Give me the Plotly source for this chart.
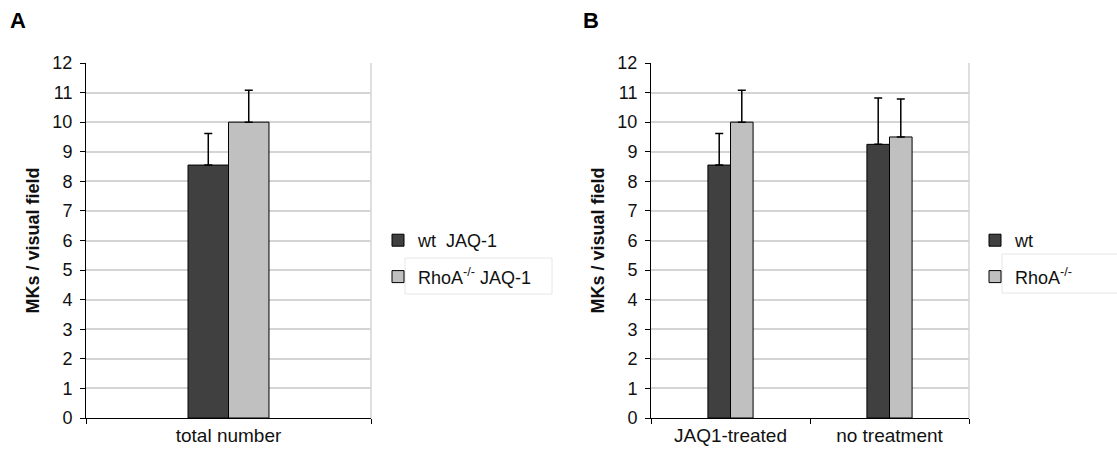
import plotly.graph_objects as go

# ---- data ----
cats_a = ["total number"]
wt_a = [8.55]
wt_a_err = [1.07]
rho_a = [10.0]
rho_a_err = [1.08]

cats_b = ["JAQ1-treated", "no treatment"]
wt_b = [8.55, 9.25]
wt_b_err = [1.07, 1.57]
rho_b = [10.0, 9.5]
rho_b_err = [1.08, 1.28]

y_ticks = list(range(0, 13))

DARK = "#404040"
LIGHT = "#c0c0c0"
FONT = "Liberation Sans, Arial, sans-serif"

fig = go.Figure()

def err(vals):
    return dict(type="data", symmetric=False, array=vals, arrayminus=[0] * len(vals),
                color="black", thickness=1.5, width=4)

fig.add_trace(go.Bar(x=cats_a, y=wt_a, name="wt  JAQ-1", marker=dict(color=DARK, line=dict(color="black", width=1)),
                     error_y=err(wt_a_err), xaxis="x", yaxis="y", legend="legend", legendgroup="a1"))
fig.add_trace(go.Bar(x=cats_a, y=rho_a, name="RhoA<sup>-/-</sup> JAQ-1", marker=dict(color=LIGHT, line=dict(color="black", width=1)),
                     error_y=err(rho_a_err), xaxis="x", yaxis="y", legend="legend", legendgroup="a2"))
fig.add_trace(go.Bar(x=cats_b, y=wt_b, name="wt", marker=dict(color=DARK, line=dict(color="black", width=1)),
                     error_y=err(wt_b_err), xaxis="x2", yaxis="y2", legend="legend2", legendgroup="b1"))
fig.add_trace(go.Bar(x=cats_b, y=rho_b, name="RhoA<sup>-/-</sup>", marker=dict(color=LIGHT, line=dict(color="black", width=1)),
                     error_y=err(rho_b_err), xaxis="x2", yaxis="y2", legend="legend2", legendgroup="b2"))

W, H = 1117, 455
y0, y1 = (H - 418) / H, (H - 63) / H

yax = dict(range=[0, 12], tickvals=y_ticks, showgrid=True, gridcolor="#d4d4d4", gridwidth=1.5,
           showline=True, linecolor="black", linewidth=1, ticks="outside", ticklen=5, tickcolor="black",
           tickfont=dict(size=18, color="#111"), zeroline=False, automargin=False, ticklabelstandoff=4,
           title=dict(text="<b>MKs / visual field</b>", font=dict(size=18, color="#111"), standoff=8),
           domain=[y0, y1])
xax = dict(showline=True, linecolor="black", linewidth=1, ticks="outside", ticklen=5, tickcolor="black",
           tickson="boundaries", tickfont=dict(size=19, color="#111"), automargin=False, showgrid=False)

fig.update_layout(
    width=W, height=H, margin=dict(l=0, r=0, t=0, b=0),
    paper_bgcolor="white", plot_bgcolor="white",
    font=dict(family=FONT, color="#111"),
    barmode="group",
    xaxis=dict(xax, domain=[86 / W, 371 / W], anchor="y"),
    yaxis=dict(yax, anchor="x"),
    xaxis2=dict(xax, domain=[651 / W, 969 / W], anchor="y2"),
    yaxis2=dict(yax, anchor="x2"),
    legend=dict(x=378 / W, y=(H - 222) / H, xanchor="left", yanchor="top", font=dict(size=18),
                traceorder="grouped", tracegroupgap=10, bgcolor="rgba(0,0,0,0)", itemwidth=30),
    legend2=dict(x=975 / W, y=(H - 222) / H, xanchor="left", yanchor="top", font=dict(size=18),
                 traceorder="grouped", tracegroupgap=10, bgcolor="rgba(0,0,0,0)", itemwidth=30),
    showlegend=True,
)
fig.update_layout(bargap=0.716)

# plot-area right border (light)
for dom in ([86 / W, 371 / W], [651 / W, 969 / W]):
    fig.add_shape(type="line", xref="paper", yref="paper", x0=dom[1], x1=dom[1], y0=y0, y1=y1,
                  line=dict(color="#d4d4d4", width=1.5), layer="below")

# faint boxes around second legend entries
fig.add_shape(type="rect", xref="paper", yref="paper", x0=405 / W, x1=552 / W, y0=(H - 294) / H, y1=(H - 258) / H,
              line=dict(color="#e6e6e6", width=1))
fig.add_shape(type="rect", xref="paper", yref="paper", x0=1002 / W, x1=1120 / W, y0=(H - 293) / H, y1=(H - 254) / H,
              line=dict(color="#e6e6e6", width=1))

fig.add_annotation(x=18 / W, y=(H - 21) / H, xref="paper", yref="paper", text="<b>A</b>", showarrow=False,
                   font=dict(size=22, color="black"), xanchor="center", yanchor="middle")
fig.add_annotation(x=591 / W, y=(H - 21) / H, xref="paper", yref="paper", text="<b>B</b>", showarrow=False,
                   font=dict(size=22, color="black"), xanchor="center", yanchor="middle")

fig.write_html("out.html")
